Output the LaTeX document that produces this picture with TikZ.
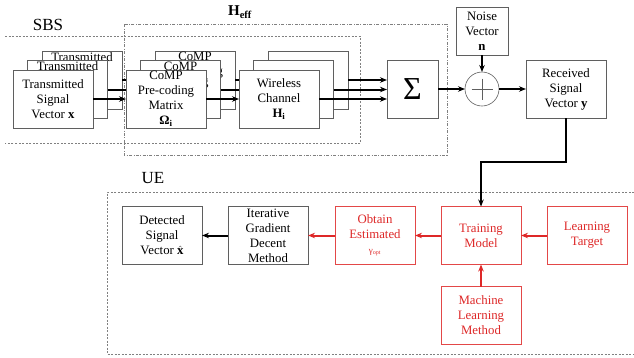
\documentclass[tikz,border=0pt]{standalone}
\usepackage{fontspec}
\setmainfont{Liberation Serif}
\usetikzlibrary{positioning, arrows.meta}
\definecolor{rahmen}{RGB}{95,95,95}
\definecolor{mlrot}{RGB}{222,40,40}
\newcommand{\boxfont}{\fontsize{12.8}{15}\selectfont}
\tikzset{
  blk/.style      = {rectangle, draw=rahmen, line width=0.6pt, fill=white, minimum width=80pt, minimum height=58pt, inner sep=0pt, outer sep=0pt, align=center, font=\boxfont},
  stapel/.style   = {blk, label={[anchor=north, align=center, font=\boxfont, inner sep=1pt]north:{#1}}},
  mlblk/.style    = {blk, draw=mlrot!85, text=mlrot},
  addierer/.style = {circle, draw=rahmen, line width=0.6pt, fill=white, minimum size=34pt, inner sep=0pt, outer sep=0pt,
                     path picture={\draw[line width=0.8pt, shorten <=6.5pt, shorten >=6.5pt] (path picture bounding box.west) -- (path picture bounding box.east);
                                   \draw[line width=0.8pt, shorten <=6.5pt, shorten >=6.5pt] (path picture bounding box.north) -- (path picture bounding box.south);}},
  flow/.style     = {line width=2pt, -{Stealth[length=7pt, width=5.5pt]}},
  mlflow/.style   = {flow, color=mlrot},
  rahmenlinie/.style = {draw=gray, line width=0.6pt, dash pattern=on 2pt off 1.5pt},
  efflinie/.style = {draw=gray, line width=0.6pt, dash pattern=on 3pt off 1.5pt on 0.8pt off 1.5pt},
  bereich/.style  = {font=\fontsize{17}{17}\selectfont}
}
\newcommand{\txtx}{Transmitted\\Signal\\Vector \textbf{x}}
\newcommand{\txcp}{CoMP\\Pre-coding\\Matrix\\\textbf{Ω\textsubscript{i}}}

\begin{document}
\begin{tikzpicture}[x=1pt, y=-1pt]
  \useasboundingbox (0,0) rectangle (634,357);

  % Rahmen SBS / H_eff / UE
  \draw[rahmenlinie] (5,36) -| (360,143) -- (5,143);
  \draw[efflinie] (124,24) rectangle (447,155);
  \draw[rahmenlinie] (634,192) -| (107,354) -- (634,354);

  \node[bereich] (sbs) at (48,25) {SBS};
  \node[bereich] (ue) at (153,178) {UE};
  \node[font=\fontsize{15}{15}\selectfont\bfseries] (heff) at (240,12) {H\textsubscript{eff}};

  \node[blk, minimum width=51pt, font=\fontsize{32}{32}\selectfont] (sig) at (412.5,89) {Σ};

  % Ebene 3 (hinten)
  \node[stapel=\txtx] (tx3) at (82,80) {};
  \node[stapel=\txcp, right=33pt of tx3] (cp3) {};
  \node[blk, right=33pt of cp3] (wc3) {};
  \draw[flow] (tx3) -- (cp3);
  \draw[flow] (cp3) -- (wc3);
  \draw[flow] (wc3) -- (wc3 -| sig.west);

  % Ebene 2
  \node[stapel=\txtx] (tx2) at (67.5,89.5) {};
  \node[stapel=\txcp, right=33pt of tx2] (cp2) {};
  \node[blk, right=33pt of cp2] (wc2) {};
  \draw[flow] (tx2) -- (cp2);
  \draw[flow] (cp2) -- (wc2);
  \draw[flow] (wc2) -- (wc2 -| sig.west);

  % Ebene 1 (vorne)
  \node[blk] (tx1) at (53,99) {\txtx};
  \node[blk, right=33pt of tx1] (cp1) {\txcp};
  \node[blk, right=33pt of cp1] (wc1) {Wireless\\Channel\\\textbf{H\textsubscript{i}}};
  \draw[flow] (tx1) -- (cp1);
  \draw[flow] (cp1) -- (wc1);
  \draw[flow] (wc1) -- (wc1 -| sig.west);

  % Rauschen + Empfang
  \node[addierer, right=27pt of sig] (add) {};
  \node[blk, minimum width=52pt, minimum height=48pt, above=17pt of add] (nv) {Noise\\Vector\\\textbf{n}};
  \node[blk, right=27pt of add] (rx) {Received\\Signal\\Vector \textbf{y}};

  \draw[flow] (sig) -- (add);
  \draw[flow, line width=1.4pt] (nv) -- (add);
  \draw[flow] (add) -- (rx);

  % UE
  \node[blk] (dt) at (162,235.5) {Detected\\Signal\\Vector $\hat{\mathbf{x}}$};
  \node[blk, right=26pt of dt] (ig) {Iterative\\Gradient\\Decent\\Method};
  \node[mlblk, right=27pt of ig] (ob) {Obtain\\Estimated\\{\small γ\textsubscript{opt}}};
  \node[mlblk, right=26pt of ob] (tm) {Training\\Model};
  \node[mlblk, right=26pt of tm] (lt) {Learning\\Target};
  \node[mlblk, below=22pt of tm] (ml) {Machine\\Learning\\Method};

  \draw[flow] (rx.south) -- ++(0,44) -| (tm.north);
  \draw[mlflow] (lt) -- (tm);
  \draw[mlflow] (ml) -- (tm);
  \draw[mlflow] (tm) -- (ob);
  \draw[mlflow] (ob) -- (ig);
  \draw[flow] (ig) -- (dt);

\end{tikzpicture}
\end{document}
